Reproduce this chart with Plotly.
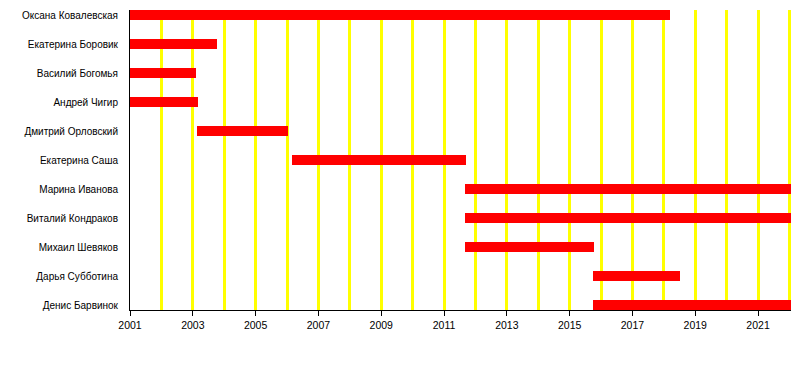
import plotly.graph_objects as go

names = [
    "Оксана Ковалевская",
    "Екатерина Боровик",
    "Василий Богомья",
    "Андрей Чигир",
    "Дмитрий Орловский",
    "Екатерина Саша",
    "Марина Иванова",
    "Виталий Кондраков",
    "Михаил Шевяков",
    "Дарья Субботина",
    "Денис Барвинок",
]
starts = [2001.0, 2001.0, 2001.0, 2001.0, 2003.14, 2006.16, 2011.67, 2011.67, 2011.67, 2015.75, 2015.75]
ends = [2018.19, 2003.77, 2003.1, 2003.17, 2006.03, 2011.7, 2022.05, 2022.05, 2015.77, 2018.5, 2022.05]
label_years = list(range(2001, 2022, 2))
grid_years = list(range(2002, 2023))

fig = go.Figure()
fig.add_trace(go.Bar(
    y=names,
    x=[e - s for s, e in zip(starts, ends)],
    base=starts,
    orientation="h",
    width=0.36,
    marker=dict(color="#ff0000", line=dict(width=0)),
    hoverinfo="skip",
))

fig.update_layout(
    width=800, height=370,
    margin=dict(l=130, r=9, t=10, b=60),
    paper_bgcolor="white", plot_bgcolor="white",
    showlegend=False,
    font=dict(family="Liberation Sans, Arial, sans-serif", size=10, color="black"),
    bargap=0,
)
fig.update_xaxes(
    range=[2001, 2022.05],
    tickvals=label_years,
    ticktext=[str(y) for y in label_years],
    showgrid=False,
    showline=True, linecolor="black", linewidth=1,
    ticks="outside", ticklen=5, tickcolor="black", tickwidth=1,
    tickfont=dict(size=10.5),
    minor=dict(tickvals=grid_years, showgrid=True, gridcolor="#ffff00", gridwidth=2.5, ticks=""),
    zeroline=False,
)
fig.update_yaxes(
    type="category",
    categoryorder="array", categoryarray=names,
    range=[10.17, -0.18],
    showgrid=False,
    showline=True, linecolor="black", linewidth=1,
    ticks="", ticklabelstandoff=9,
    tickfont=dict(size=10),
    zeroline=False,
)

fig.write_html("out.html")
